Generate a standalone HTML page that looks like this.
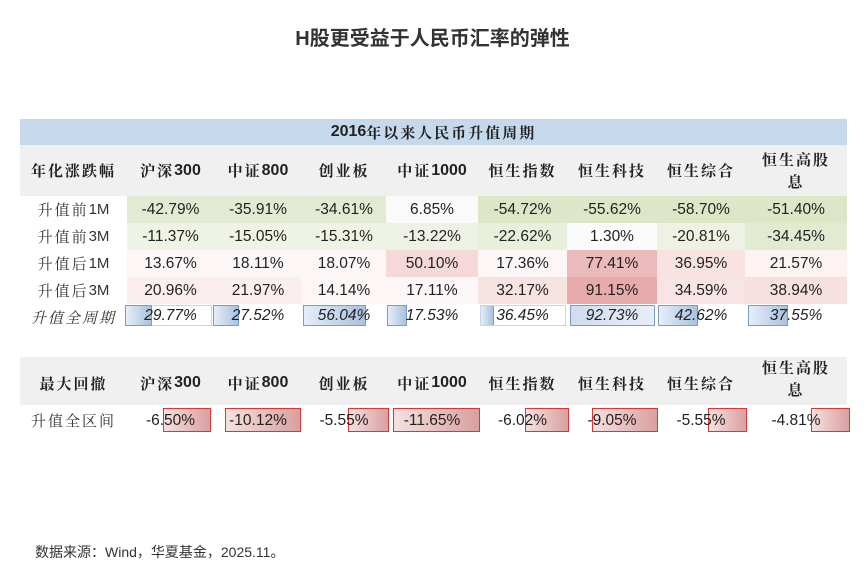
<!DOCTYPE html>
<html><head><meta charset="utf-8"><style>
body{margin:0;width:865px;height:570px;background:#fff;position:relative;overflow:hidden;font-family:"Liberation Sans","Noto Sans CJK SC",sans-serif;}
.t{position:absolute;left:0;top:22px;width:865px;text-align:center;font-size:20px;font-weight:bold;color:#333;font-family:"Liberation Sans","Noto Sans CJK SC",sans-serif;}
.a{position:absolute;}
.c{position:absolute;display:flex;align-items:center;justify-content:center;font-size:15.5px;color:#222;}
.h{font-family:"Noto Serif CJK SC","Liberation Sans",serif;font-weight:bold;font-size:15px;color:#222;letter-spacing:2px;}
.h b{font-family:"Liberation Sans",sans-serif;letter-spacing:0;font-size:16px}
.l{font-family:"Noto Serif CJK SC","Liberation Sans",serif;font-size:15px;color:#333;letter-spacing:2px}
.blue{position:absolute;top:305px;height:21px;background:linear-gradient(90deg,#e6eef8,#a9c1e0);border:1px solid #7a9cc8;box-sizing:border-box}
.red{position:absolute;top:408px;height:24px;background:linear-gradient(90deg,#f6e0e0,#d9a0a0);border:1.5px solid #e83030;box-sizing:border-box}
</style></head><body>
<div class="t">H股更受益于人民币汇率的弹性</div>
<div class="a" style="left:20px;top:119px;width:827px;height:26px;background:#c6d8eb"></div>
<div class="c h" style="left:20px;top:119px;width:827px;height:26px;font-size:15px"><b>2016</b>年以来人民币升值周期</div>
<div class="a" style="left:20px;top:145px;width:827px;height:51px;background:#f0f0f0"></div>
<div class="a" style="left:20px;top:357px;width:827px;height:48px;background:#f0f0f0"></div>

<!-- backgrounds -->
<div class="a" style="left:127px;top:196px;width:259px;height:27px;background:#e2ead3"></div>
<div class="a" style="left:386px;top:196px;width:92px;height:27px;background:#fafafa"></div>
<div class="a" style="left:478px;top:196px;width:369px;height:27px;background:#dde7c8"></div>
<div class="a" style="left:127px;top:223px;width:259px;height:27px;background:#eef3e5"></div>
<div class="a" style="left:386px;top:223px;width:92px;height:27px;background:#eef2e6"></div>
<div class="a" style="left:478px;top:223px;width:89px;height:27px;background:#e8efdb"></div>
<div class="a" style="left:567px;top:223px;width:90px;height:27px;background:#fbfbfb"></div>
<div class="a" style="left:657px;top:223px;width:88px;height:27px;background:#eef2e4"></div>
<div class="a" style="left:745px;top:223px;width:102px;height:27px;background:#e2ead2"></div>
<div class="a" style="left:127px;top:250px;width:259px;height:27px;background:#fdf6f6"></div>
<div class="a" style="left:386px;top:250px;width:92px;height:27px;background:#f5d8d8"></div>
<div class="a" style="left:478px;top:250px;width:89px;height:27px;background:#fdf6f6"></div>
<div class="a" style="left:567px;top:250px;width:90px;height:27px;background:#ebbaba"></div>
<div class="a" style="left:657px;top:250px;width:88px;height:27px;background:#f8e2e2"></div>
<div class="a" style="left:745px;top:250px;width:102px;height:27px;background:#fdf3f3"></div>
<div class="a" style="left:127px;top:277px;width:175px;height:27px;background:#fbeeee"></div>
<div class="a" style="left:302px;top:277px;width:176px;height:27px;background:#fdf6f6"></div>
<div class="a" style="left:478px;top:277px;width:89px;height:27px;background:#f8e3e3"></div>
<div class="a" style="left:567px;top:277px;width:90px;height:27px;background:#e7abab"></div>
<div class="a" style="left:657px;top:277px;width:88px;height:27px;background:#f8e4e4"></div>
<div class="a" style="left:745px;top:277px;width:102px;height:27px;background:#f7e0e0"></div>

<!-- blue bars -->
<div class="a" style="left:125px;top:305px;width:87px;height:21px;border:1px solid #c8d6ea;box-sizing:border-box"></div>
<div class="blue" style="left:125px;width:27px"></div>
<div class="blue" style="left:213px;width:26px"></div>
<div class="blue" style="left:303px;width:63px"></div>
<div class="blue" style="left:387px;width:20px"></div>
<div class="blue" style="left:480px;width:14px"></div>
<div class="a" style="left:480px;top:305px;width:86px;height:21px;border:1px solid #c8d6ea;box-sizing:border-box"></div>
<div class="blue" style="left:570px;width:85px;background:linear-gradient(90deg,#cfdcef,#e8eef8)"></div>
<div class="blue" style="left:658px;width:40px"></div>
<div class="blue" style="left:748px;width:40px"></div>

<!-- red bars -->
<div class="red" style="left:163px;width:48px"></div>
<div class="red" style="left:225px;width:76px"></div>
<div class="red" style="left:348px;width:41px"></div>
<div class="red" style="left:393px;width:87px"></div>
<div class="red" style="left:525px;width:44px"></div>
<div class="red" style="left:592px;width:66px"></div>
<div class="red" style="left:708px;width:39px"></div>
<div class="red" style="left:811px;width:39px"></div>

<!-- header row -->
<div class="c h" style="left:20px;top:145px;width:107px;height:51px">年化涨跌幅</div>
<div class="c h" style="left:127px;top:145px;width:87px;height:51px">沪深<b>300</b></div>
<div class="c h" style="left:214px;top:145px;width:88px;height:51px">中证<b>800</b></div>
<div class="c h" style="left:302px;top:145px;width:84px;height:51px">创业板</div>
<div class="c h" style="left:386px;top:145px;width:92px;height:51px">中证<b>1000</b></div>
<div class="c h" style="left:478px;top:145px;width:89px;height:51px">恒生指数</div>
<div class="c h" style="left:567px;top:145px;width:90px;height:51px">恒生科技</div>
<div class="c h" style="left:657px;top:145px;width:88px;height:51px">恒生综合</div>
<div class="c h" style="left:745px;top:145px;width:102px;height:51px;text-align:center;line-height:22px">恒生高股<br>息</div>

<!-- data rows -->
<div class="c l" style="left:20px;top:196px;width:107px;height:27px">升值前<span style="font-family:Liberation Sans;letter-spacing:0">1M</span></div>
<div class="c" style="left:127px;top:196px;width:87px;height:27px">-42.79%</div>
<div class="c" style="left:214px;top:196px;width:88px;height:27px">-35.91%</div>
<div class="c" style="left:302px;top:196px;width:84px;height:27px">-34.61%</div>
<div class="c" style="left:386px;top:196px;width:92px;height:27px">6.85%</div>
<div class="c" style="left:478px;top:196px;width:89px;height:27px">-54.72%</div>
<div class="c" style="left:567px;top:196px;width:90px;height:27px">-55.62%</div>
<div class="c" style="left:657px;top:196px;width:88px;height:27px">-58.70%</div>
<div class="c" style="left:745px;top:196px;width:102px;height:27px">-51.40%</div>

<div class="c l" style="left:20px;top:223px;width:107px;height:27px">升值前<span style="font-family:Liberation Sans;letter-spacing:0">3M</span></div>
<div class="c" style="left:127px;top:223px;width:87px;height:27px">-11.37%</div>
<div class="c" style="left:214px;top:223px;width:88px;height:27px">-15.05%</div>
<div class="c" style="left:302px;top:223px;width:84px;height:27px">-15.31%</div>
<div class="c" style="left:386px;top:223px;width:92px;height:27px">-13.22%</div>
<div class="c" style="left:478px;top:223px;width:89px;height:27px">-22.62%</div>
<div class="c" style="left:567px;top:223px;width:90px;height:27px">1.30%</div>
<div class="c" style="left:657px;top:223px;width:88px;height:27px">-20.81%</div>
<div class="c" style="left:745px;top:223px;width:102px;height:27px">-34.45%</div>

<div class="c l" style="left:20px;top:250px;width:107px;height:27px">升值后<span style="font-family:Liberation Sans;letter-spacing:0">1M</span></div>
<div class="c" style="left:127px;top:250px;width:87px;height:27px">13.67%</div>
<div class="c" style="left:214px;top:250px;width:88px;height:27px">18.11%</div>
<div class="c" style="left:302px;top:250px;width:84px;height:27px">18.07%</div>
<div class="c" style="left:386px;top:250px;width:92px;height:27px">50.10%</div>
<div class="c" style="left:478px;top:250px;width:89px;height:27px">17.36%</div>
<div class="c" style="left:567px;top:250px;width:90px;height:27px">77.41%</div>
<div class="c" style="left:657px;top:250px;width:88px;height:27px">36.95%</div>
<div class="c" style="left:745px;top:250px;width:102px;height:27px">21.57%</div>

<div class="c l" style="left:20px;top:277px;width:107px;height:27px">升值后<span style="font-family:Liberation Sans;letter-spacing:0">3M</span></div>
<div class="c" style="left:127px;top:277px;width:87px;height:27px">20.96%</div>
<div class="c" style="left:214px;top:277px;width:88px;height:27px">21.97%</div>
<div class="c" style="left:302px;top:277px;width:84px;height:27px">14.14%</div>
<div class="c" style="left:386px;top:277px;width:92px;height:27px">17.11%</div>
<div class="c" style="left:478px;top:277px;width:89px;height:27px">32.17%</div>
<div class="c" style="left:567px;top:277px;width:90px;height:27px">91.15%</div>
<div class="c" style="left:657px;top:277px;width:88px;height:27px">34.59%</div>
<div class="c" style="left:745px;top:277px;width:102px;height:27px">38.94%</div>

<div class="c l" style="left:20px;top:304px;width:107px;height:27px;font-style:italic">升值全周期</div>
<div class="c" style="left:127px;top:304px;width:87px;height:23px;font-style:italic">29.77%</div>
<div class="c" style="left:214px;top:304px;width:88px;height:23px;font-style:italic">27.52%</div>
<div class="c" style="left:302px;top:304px;width:84px;height:23px;font-style:italic">56.04%</div>
<div class="c" style="left:386px;top:304px;width:92px;height:23px;font-style:italic">17.53%</div>
<div class="c" style="left:478px;top:304px;width:89px;height:23px;font-style:italic">36.45%</div>
<div class="c" style="left:567px;top:304px;width:90px;height:23px;font-style:italic">92.73%</div>
<div class="c" style="left:657px;top:304px;width:88px;height:23px;font-style:italic">42.62%</div>
<div class="c" style="left:745px;top:304px;width:102px;height:23px;font-style:italic">37.55%</div>

<!-- drawdown -->
<div class="c h" style="left:20px;top:357px;width:107px;height:52px">最大回撤</div>
<div class="c h" style="left:127px;top:357px;width:87px;height:52px">沪深<b>300</b></div>
<div class="c h" style="left:214px;top:357px;width:88px;height:52px">中证<b>800</b></div>
<div class="c h" style="left:302px;top:357px;width:84px;height:52px">创业板</div>
<div class="c h" style="left:386px;top:357px;width:92px;height:52px">中证<b>1000</b></div>
<div class="c h" style="left:478px;top:357px;width:89px;height:52px">恒生指数</div>
<div class="c h" style="left:567px;top:357px;width:90px;height:52px">恒生科技</div>
<div class="c h" style="left:657px;top:357px;width:88px;height:52px">恒生综合</div>
<div class="c h" style="left:745px;top:350px;width:102px;height:58px;text-align:center;line-height:22px">恒生高股<br>息</div>

<div class="c l" style="left:20px;top:407px;width:107px;height:27px">升值全区间</div>
<div class="c" style="left:127px;top:407px;width:87px;height:27px">-6.50%</div>
<div class="c" style="left:214px;top:407px;width:88px;height:27px">-10.12%</div>
<div class="c" style="left:302px;top:407px;width:84px;height:27px">-5.55%</div>
<div class="c" style="left:386px;top:407px;width:92px;height:27px">-11.65%</div>
<div class="c" style="left:478px;top:407px;width:89px;height:27px">-6.02%</div>
<div class="c" style="left:567px;top:407px;width:90px;height:27px">-9.05%</div>
<div class="c" style="left:657px;top:407px;width:88px;height:27px">-5.55%</div>
<div class="c" style="left:745px;top:407px;width:102px;height:27px">-4.81%</div>

<div class="a" style="left:35px;top:542px;font-size:14px;color:#333">数据来源：Wind，华夏基金，2025.11。</div>
</body></html>
